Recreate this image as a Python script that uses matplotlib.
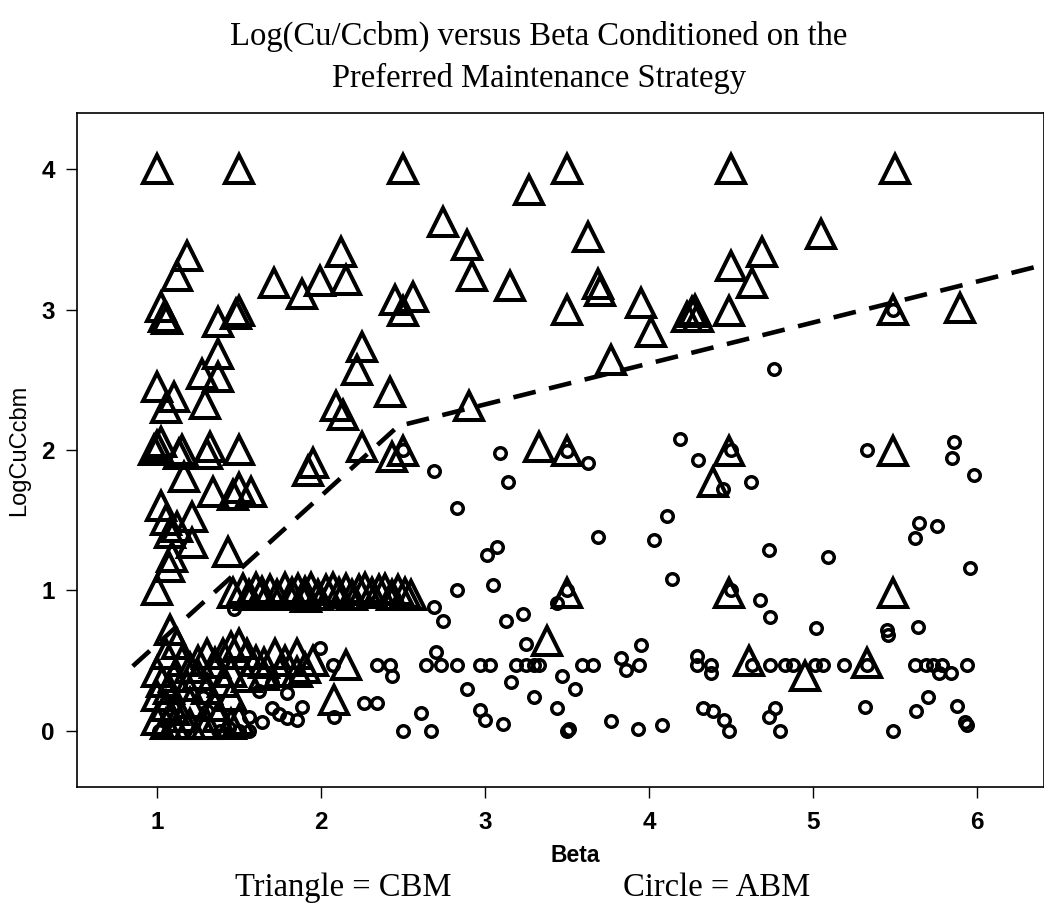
'''Log(Cu/Ccbm) gegen Beta, Dreieck = CBM, Kreis = ABM.
'''
import matplotlib
matplotlib.use('Agg')
import matplotlib.pyplot as plt

# CBM (Dreiecke)
cbm_beta = [
    1.0, 1.5, 2.5, 3.5, 4.5, 5.5, 3.27,
    1.18, 1.12, 1.02, 1.04, 1.06, 1.37, 1.5, 1.48, 1.71, 1.88, 1.99, 2.12,
    2.15, 2.45, 2.56, 2.5,
    2.74, 2.89, 2.92, 3.15, 3.63, 3.69, 3.7, 3.5, 3.95, 4.01, 3.77, 4.23,
    4.26, 4.28, 4.3, 4.5, 4.49, 4.63, 4.69, 5.05, 5.49, 5.9,
    1.37, 1.27, 1.37, 1.0, 1.1, 1.05, 1.29, 2.25, 2.22, 2.42, 2.09, 2.13, 2.9,
    1.0, 0.98, 1.02, 1.15, 1.13, 1.32, 1.3, 1.5, 1.16, 1.34, 1.5, 1.57, 1.46,
    1.95, 1.92, 2.25, 2.43, 2.5, 3.33, 3.5, 4.49, 4.39, 5.49,
    1.02, 1.05, 1.21, 1.08, 1.21, 1.09, 1.07, 1.43, 1.12,
    1.0, 1.46, 1.52, 1.56, 1.6, 1.64, 1.69, 1.73, 1.78, 1.82, 1.86, 1.9,
    1.94, 1.98, 2.03, 2.07, 2.11, 2.15, 2.19, 2.23, 2.27, 2.31, 2.35, 2.39,
    2.43, 2.47, 2.51, 2.55, 1.91, 3.5, 4.49, 5.49,
    3.38, 4.61, 4.95, 5.33, 2.15, 2.08,
    1.08, 1.12, 1.05, 1.15, 1.2, 1.25, 1.3, 1.35, 1.4, 1.45, 1.5, 1.55, 1.6,
    1.65, 1.72, 1.78, 1.85, 1.9, 1.95, 1.0, 1.03, 1.07, 1.1, 1.18, 1.25, 1.3,
    1.4, 1.45, 1.55, 1.65, 1.75, 1.85, 1.0, 1.05, 1.1, 1.2, 1.35, 1.45,
    1.0, 1.05, 1.1, 1.15, 1.2, 1.27, 1.3, 1.37, 1.45, 1.5,
]
cbm_log = [
    4.0, 4.0, 4.0, 4.0, 4.0, 4.0, 3.85,
    3.38, 3.24, 3.02, 2.95, 2.93, 2.91, 2.99, 2.97, 3.19, 3.11, 3.2, 3.41,
    3.21, 3.07, 3.09, 2.99,
    3.62, 3.46, 3.24, 3.17, 3.52, 3.18, 3.13, 3.0, 3.05, 2.84, 2.64, 2.95,
    2.98, 3.0, 2.95, 3.31, 2.99, 3.19, 3.41, 3.54, 3.0, 3.01,
    2.68, 2.54, 2.52, 2.45, 2.38, 2.3, 2.33, 2.73, 2.57, 2.41, 2.31, 2.25, 2.31,
    2.03, 2.0, 2.06, 2.0, 1.97, 2.02, 1.97, 2.0, 1.81, 1.7, 1.73, 1.7, 1.68,
    1.91, 1.85, 2.02, 1.95, 1.99, 2.02, 1.99, 1.99, 1.77, 1.99,
    1.6, 1.5, 1.52, 1.41, 1.34, 1.24, 1.17, 1.27, 1.45,
    1.0, 0.98, 1.01, 0.97, 1.02, 0.99, 1.0, 0.97, 1.02, 0.98, 1.01, 0.99,
    1.02, 0.97, 1.0, 1.02, 0.98, 1.01, 0.97, 1.0, 1.02, 0.98, 1.0, 1.01,
    0.97, 1.0, 0.98, 0.97, 0.95, 0.98, 0.98, 0.98,
    0.64, 0.5, 0.39, 0.48, 0.47, 0.22,
    0.72, 0.62, 0.55, 0.5, 0.45, 0.5, 0.55, 0.48, 0.55, 0.6, 0.62, 0.55, 0.5,
    0.48, 0.55, 0.5, 0.55, 0.45, 0.5, 0.42, 0.35, 0.3, 0.38, 0.32, 0.4, 0.3,
    0.35, 0.42, 0.38, 0.4, 0.42, 0.42, 0.25, 0.18, 0.15, 0.2, 0.18, 0.25,
    0.08, 0.05, 0.05, 0.1, 0.05, 0.05, 0.05, 0.1, 0.05, 0.08,
]

# ABM (Kreise)
abm_beta = [
    4.19, 4.30, 4.62, 4.45, 3.09, 3.63, 3.5, 4.5, 2.69, 3.14, 2.83, 3.69,
    4.11, 4.03, 3.07, 3.01, 3.05, 2.83, 4.14, 3.5, 3.44, 4.5, 2.69, 2.74,
    3.23, 3.13, 3.25, 3.95, 3.83, 2.70,
    2.64, 2.73, 2.83, 2.97, 3.03, 3.19, 3.25, 3.30, 3.33, 3.59, 3.66, 3.94,
    4.29, 4.38,
    3.86, 4.29, 4.38, 3.47, 3.16, 2.89, 3.55, 3.30, 2.97, 3.0, 3.44, 3.11,
    2.67, 2.61, 3.5, 3.51, 3.77, 3.93, 4.08, 4.33, 4.39, 4.46, 4.49,
    5.33, 5.86, 5.85, 5.98, 5.65, 5.76, 5.62, 4.73, 5.09, 5.96, 4.68, 4.74,
    5.02, 5.45, 5.46, 5.64, 4.76, 5.49,
    4.63, 4.74, 4.83, 4.88, 5.01, 5.06, 5.19, 5.33, 5.62, 5.69, 5.73, 5.79,
    5.94,
    5.77, 5.84, 5.70, 5.63, 5.88, 5.93, 5.94, 4.77, 4.73, 4.80, 5.32, 5.49,
    1.47, 1.99, 2.07, 2.34, 2.42, 2.43, 2.26, 2.34, 2.08, 2.5, 1.70, 1.79,
    1.88, 1.70, 1.74, 1.56, 1.64, 1.79, 1.85, 1.44, 1.56, 1.62, 1.38, 1.5,
    1.01, 1.28, 1.3, 2.5,
]
abm_log = [
    2.08, 1.93, 1.77, 1.72, 1.98, 1.91, 1.99, 2.0, 1.85, 1.77, 1.59, 1.38,
    1.53, 1.36, 1.31, 1.25, 1.04, 1.0, 1.08, 1.0, 0.91, 1.0, 0.88, 0.78,
    0.83, 0.78, 0.62, 0.61, 0.52, 0.56,
    0.47, 0.47, 0.47, 0.47, 0.47, 0.47, 0.47, 0.47, 0.47, 0.47, 0.47, 0.47,
    0.47, 0.47,
    0.43, 0.53, 0.41, 0.39, 0.35, 0.3, 0.3, 0.24, 0.15, 0.08, 0.16, 0.05,
    0.0, 0.13, 0.0, 0.01, 0.07, 0.01, 0.04, 0.16, 0.14, 0.08, 0.0,
    2.0, 2.06, 1.94, 1.82, 1.48, 1.46, 1.37, 1.29, 1.24, 1.16, 0.93, 0.81,
    0.73, 0.72, 0.68, 0.74, 2.58, 3.0,
    0.47, 0.47, 0.47, 0.47, 0.47, 0.47, 0.47, 0.47, 0.47, 0.47, 0.47, 0.47,
    0.47,
    0.41, 0.41, 0.24, 0.14, 0.18, 0.06, 0.04, 0.16, 0.1, 0.0, 0.17, 0.0,
    0.87, 0.59, 0.47, 0.47, 0.47, 0.39, 0.2, 0.2, 0.1, 0.0, 0.34, 0.27,
    0.17, 0.16, 0.12, 0.1, 0.06, 0.09, 0.08, 0.02, 0.0, 0.28, 0.0, 0.0,
    0.0, 0.24, 0.14, 2.0,
]

# Trennlinie
line_beta = [0.85, 2.47, 6.45]
line_log = [0.46, 2.17, 3.33]

x_ticks = [1, 2, 3, 4, 5, 6]
y_ticks = [0, 1, 2, 3, 4]

SERIF = ['Liberation Serif', 'DejaVu Serif']
SANS = ['Liberation Sans', 'DejaVu Sans']


def draw():
    fig = plt.figure(figsize=(10.44, 9.08), dpi=100)
    ax = fig.add_axes([0.0738, 0.1333, 0.9262, 0.7423])

    ax.plot(cbm_beta, cbm_log, linestyle='none', marker='^', markersize=19.5,
            markerfacecolor='none', markeredgecolor='black',
            markeredgewidth=2.9)
    ax.plot(abm_beta, abm_log, linestyle='none', marker='o', markersize=8.3,
            markerfacecolor='none', markeredgecolor='black',
            markeredgewidth=2.5)
    ax.plot(line_beta, line_log, color='black', linewidth=3.3,
            dashes=(5, 3.0), solid_capstyle='butt')

    ax.set_xlim(0.51, 6.41)
    ax.set_ylim(-0.40, 4.40)
    ax.set_xticks(x_ticks)
    ax.set_yticks(y_ticks)
    ax.tick_params(axis='both', direction='out', length=8, width=1)
    ax.tick_params(axis='x', pad=9)
    ax.tick_params(axis='y', pad=8)
    for lab in ax.get_xticklabels() + ax.get_yticklabels():
        lab.set_family(SANS)
        lab.set_fontweight('bold')
        lab.set_fontsize(17.5)
    for sp in ax.spines.values():
        sp.set_linewidth(1.2)

    ax.set_xlabel('Beta', family=SANS, fontsize=16.5, fontweight='bold')
    ax.xaxis.set_label_coords(0.515, -0.084)
    ax.set_ylabel('LogCuCcbm', family=SANS, fontsize=17)
    ax.yaxis.set_label_coords(-0.049, 0.5)

    fig.text(0.516, 0.960, 'Log(Cu/Ccbm) versus Beta Conditioned on the',
             family=SERIF, fontsize=23.5, ha='center', va='center')
    fig.text(0.516, 0.914, 'Preferred Maintenance Strategy',
             family=SERIF, fontsize=23.5, ha='center', va='center')
    fig.text(0.329, 0.022, 'Triangle = CBM', family=SERIF, fontsize=23.5,
             ha='center', va='center')
    fig.text(0.686, 0.022, 'Circle = ABM', family=SERIF, fontsize=23.5,
             ha='center', va='center')

    fig.savefig('out.png', dpi=100)


if __name__ == '__main__':
    draw()
